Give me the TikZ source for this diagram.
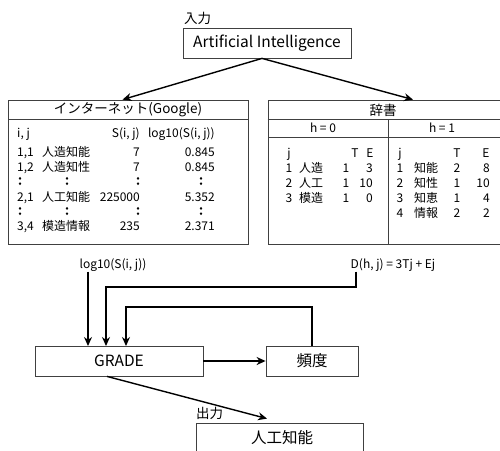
\documentclass[tikz,border=0pt]{standalone}
\usepackage{fontspec}
\setmainfont{Noto Sans CJK JP}
\newfontfamily\dotfont[FakeBold=5]{Noto Sans CJK JP}
\usetikzlibrary{arrows.meta}
\begin{document}
\begin{tikzpicture}[x=1pt,y=-1pt,
  box/.style={draw=black!75,line width=0.8pt,inner sep=0pt},
  arr/.style={line width=1.4pt,-{Stealth[length=9pt,width=8pt]}},
  tb/.style={font=\fontsize{12}{14}\selectfont,inner sep=0pt},
  hd/.style={font=\fontsize{13.5}{15}\selectfont,inner sep=0pt},
  big/.style={font=\fontsize{15.5}{17}\selectfont,inner sep=0pt},
  vd/.style={font=\dotfont\fontsize{13}{14}\selectfont,inner sep=0pt}]
\clip (0,0) rectangle (500,450);
\useasboundingbox (0,0) rectangle (500,450);
% top box
\node[box,minimum width=168pt,minimum height=30pt,big] (ai) at (267,43) {Artificial Intelligence};
\node[hd,anchor=base west] (inlab) at (184,23) {入力};
% left box
\node[box,minimum width=240pt,minimum height=144pt] (net) at (128.5,172) {};
\draw[black!75,line width=0.8pt] (8.5,119) coordinate (nl) -- (nl -| net.east);
\node[hd] (nethd) at (128,110) {インターネット(Google)};
\node[tb,anchor=base west] (lh1) at (17,137) {i, j};
\node[tb,anchor=base east] (lh2) at (140,137) {S(i, j)};
\node[tb,anchor=base east] (lh3) at (215,137) {log10(S(i, j))};
\foreach \n/\y/\a/\b/\c/\d in {1/156/{1,1}/人造知能/7/0.845, 2/171/{1,2}/人造知性/7/0.845, 3/201/{2,1}/人工知能/225000/5.352, 4/230/{3,4}/模造情報/235/2.371}{
  \node[tb,anchor=base west] (la\n) at (17,\y) {\a};
  \node[tb,anchor=base west] (lb\n) at (42,\y) {\b};
  \node[tb,anchor=base east] (lc\n) at (140,\y) {\c};
  \node[tb,anchor=base east] (ld\n) at (215,\y) {\d};
}
\foreach \n/\y in {1/181,2/211}{
  \foreach \m/\x in {a/20,b/67,c/138,d/201}{
    \node[vd] (dot\n\m) at (\x,\y) {:};
  }
}
% right box
\node[box,minimum width=232pt,minimum height=144pt] (dict) at (384,172) {};
\draw[black!75,line width=0.8pt] (dict.west |- nl) -- (dict.east |- nl);
\coordinate (d2) at (268,137);
\draw[black!75,line width=0.8pt] (d2) -- (d2 -| dict.east);
\draw[black!75,line width=0.8pt] (388,119) coordinate (dv) -- (dv |- dict.south);
\node[hd] (dicthd) at (383,110) {辞書};
\node[tb] (h0) at (323,128) {h = 0};
\node[tb] (h1) at (442,128) {h = 1};
\node[tb,anchor=base] (rj0) at (289,157) {j};
\node[tb,anchor=base] (rt0) at (355,157) {T};
\node[tb,anchor=base] (re0) at (370,157) {E};
\node[tb,anchor=base] (rj1) at (400,157) {j};
\node[tb,anchor=base] (rt1) at (457,157) {T};
\node[tb,anchor=base] (re1) at (486,157) {E};
\foreach \n/\y/\a/\b/\c/\d in {1/172/1/人造/1/3, 2/187/2/人工/1/10, 3/202/3/模造/1/0}{
  \node[tb,anchor=base] (ra\n) at (289,\y) {\a};
  \node[tb,anchor=base west] (rb\n) at (299,\y) {\b};
  \node[tb,anchor=base] (rc\n) at (346,\y) {\c};
  \node[tb,anchor=base east] (rd\n) at (373,\y) {\d};
}
\foreach \n/\y/\a/\b/\c/\d in {1/172/1/知能/2/8, 2/187/2/知性/1/10, 3/202/3/知恵/1/4, 4/217/4/情報/2/2}{
  \node[tb,anchor=base] (sa\n) at (400,\y) {\a};
  \node[tb,anchor=base west] (sb\n) at (414,\y) {\b};
  \node[tb,anchor=base] (sc\n) at (457,\y) {\c};
  \node[tb,anchor=base east] (sd\n) at (490,\y) {\d};
}
% labels
\node[tb] (loglab) at (113,265) {log10(S(i, j))};
\node[tb] (dlab) at (393,265) {D(h, j) = 3Tj + Ej};
% arrows from top
\draw[arr] ([xshift=-5pt]ai.south) -- ([xshift=-6pt]net.north);
\draw[arr] ([xshift=-5pt]ai.south) -- ([xshift=29pt]dict.north);
% lower boxes
\node[box,minimum width=168pt,minimum height=30pt,big] (grade) at (119,361) {GRADE};
\node[box,minimum width=92pt,minimum height=30pt,big] (freq) at (312,361) {頻度};
\node[box,minimum width=167pt,minimum height=34pt,big] (out) at (279.5,440) {};
\node[big] (outtxt) at (282,438) {人工知能};
\node[hd,anchor=base west] (outlab) at (196,418) {出力};
\coordinate (g1) at (88,346);
\coordinate (g2) at (106,346);
\coordinate (g3) at (126,346);
\coordinate (k2) at (356,287);
\coordinate (k3) at (126,307);
\draw[arr] (loglab.south -| g1) -- (g1);
\draw[arr] (dlab.south -| k2) -- (k2) -| (g2);
\draw[arr] (freq.north) |- (k3) -- (g3);
\draw[arr] (grade.east) -- (freq.west);
\draw[arr] ([xshift=-12pt]grade.south) -- ([xshift=-12.5pt,yshift=4pt]out.north);
\end{tikzpicture}
\end{document}
